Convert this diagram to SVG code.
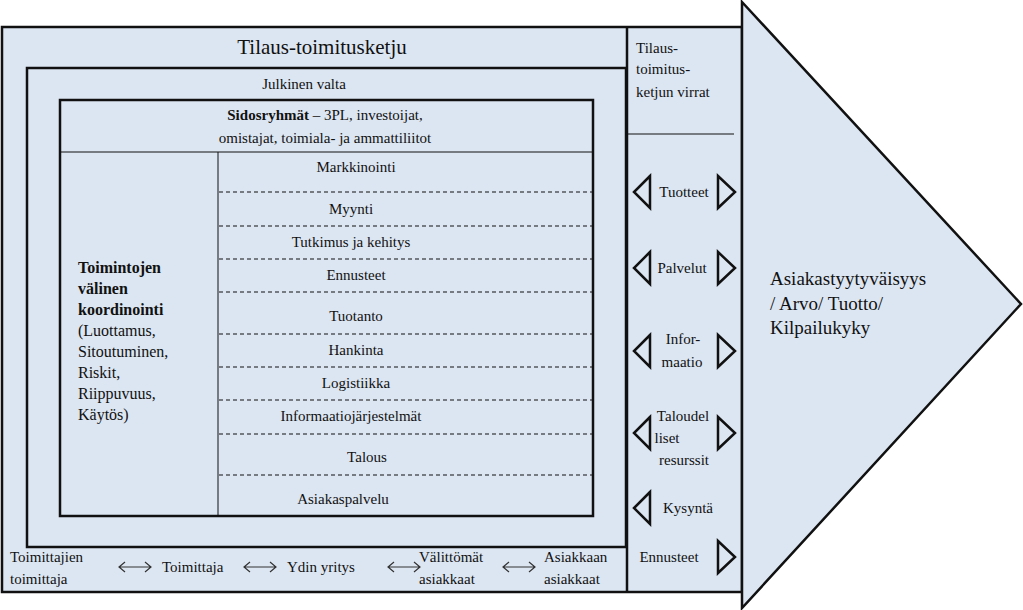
<svg xmlns="http://www.w3.org/2000/svg" width="1023" height="610" viewBox="0 0 1023 610" font-family="'Liberation Serif', 'Times New Roman', 'DejaVu Serif', serif">
<style>
text{font-family:'Liberation Serif','Times New Roman','DejaVu Serif',serif;fill:#111}
.box{fill:#dce6f2;stroke:#111;stroke-width:2.5}
.tri{fill:none;stroke:#111;stroke-width:2.5;stroke-linejoin:miter}
.dash{stroke:#111;stroke-width:1;stroke-dasharray:4,3}
.f15{font-size:15px}
.f16{font-size:16px}
.mid{text-anchor:middle}
.dbl{stroke:#333;stroke-width:1.2;fill:none}
</style>
<rect width="1023" height="610" fill="#fff"/>
<g id="outer">
<rect class="box" x="2" y="27" width="740" height="565"/>
<line x1="627" y1="27" x2="627" y2="592" stroke="#111" stroke-width="2.5"/>
<text x="322" y="54" class="mid" font-size="21">Tilaus-toimitusketju</text>
</g>
<g id="julkinen">
<rect class="box" x="27" y="68" width="599" height="479"/>
<text x="304" y="89" class="mid f15">Julkinen valta</text>
</g>
<g id="sidosryhmat">
<rect class="box" x="60" y="100" width="533" height="416"/>
<line x1="60" y1="152" x2="593" y2="152" stroke="#111" stroke-width="1"/>
<line x1="218" y1="152" x2="218" y2="516" stroke="#111" stroke-width="1"/>
<text x="325" y="120" class="mid f15"><tspan font-weight="bold">Sidosryhmät</tspan>  – 3PL, investoijat,</text>
<text x="325" y="143" class="mid f15">omistajat, toimiala- ja ammattiliitot</text>
</g>
<g id="koordinointi" class="f16">
<text x="78" y="273" font-weight="bold">Toimintojen</text>
<text x="78" y="294" font-weight="bold">välinen</text>
<text x="78" y="315" font-weight="bold">koordinointi</text>
<text x="78" y="336">(Luottamus,</text>
<text x="78" y="357">Sitoutuminen,</text>
<text x="78" y="378">Riskit,</text>
<text x="78" y="399">Riippuvuus,</text>
<text x="78" y="420">Käytös)</text>
</g>
<g id="toiminnot" class="f15">
<line class="dash" x1="219" y1="192" x2="592" y2="192"/>
<line class="dash" x1="219" y1="226" x2="592" y2="226"/>
<line class="dash" x1="219" y1="259" x2="592" y2="259"/>
<line class="dash" x1="219" y1="292" x2="592" y2="292"/>
<line class="dash" x1="219" y1="334" x2="592" y2="334"/>
<line class="dash" x1="219" y1="367" x2="592" y2="367"/>
<line class="dash" x1="219" y1="400" x2="592" y2="400"/>
<line class="dash" x1="219" y1="434" x2="592" y2="434"/>
<line class="dash" x1="219" y1="475" x2="592" y2="475"/>
<text x="356" y="172" class="mid">Markkinointi</text>
<text x="351" y="214" class="mid">Myynti</text>
<text x="351" y="247" class="mid">Tutkimus  ja kehitys</text>
<text x="356" y="280" class="mid">Ennusteet</text>
<text x="356" y="321" class="mid">Tuotanto</text>
<text x="356" y="355" class="mid">Hankinta</text>
<text x="356" y="388" class="mid">Logistiikka</text>
<text x="351" y="421" class="mid">Informaatiojärjestelmät</text>
<text x="367" y="462" class="mid">Talous</text>
<text x="343" y="504" class="mid">Asiakaspalvelu</text>
</g>
<g id="arrow">
<path d="M742,2 L1021,304 L742,608 Z" fill="#dce6f2" stroke="#111" stroke-width="2.5"/>
<text x="770" y="285" font-size="19">Asiakastyytyväisyys</text>
<text x="770" y="310" font-size="19">/ Arvo/ Tuotto/</text>
<text x="770" y="334" font-size="19">Kilpailukyky</text>
</g>
<g id="virrat" class="f15">
<text x="636" y="53">Tilaus-</text>
<text x="636" y="74">toimitus-</text>
<text x="636" y="97">ketjun  virrat</text>
<line x1="627" y1="134" x2="734" y2="134" stroke="#111" stroke-width="1"/>
<path class="tri" d="M650,176 L634,192 L650,208 Z"/><path class="tri" d="M718,176 L735,192 L718,208 Z"/>
<text x="684" y="197" class="mid">Tuotteet</text>
<path class="tri" d="M650,252 L634,268 L650,284 Z"/><path class="tri" d="M718,252 L735,268 L718,284 Z"/>
<text x="682" y="273" class="mid">Palvelut</text>
<path class="tri" d="M650,335 L634,351 L650,367 Z"/><path class="tri" d="M718,335 L735,351 L718,367 Z"/>
<text x="683" y="344" class="mid">Infor-</text>
<text x="682" y="367" class="mid">maatio</text>
<path class="tri" d="M650,417 L634,433 L650,449 Z"/><path class="tri" d="M718,417 L735,433 L718,449 Z"/>
<text x="683" y="421" class="mid">Taloudel</text>
<text x="667" y="443" class="mid">liset</text>
<text x="684" y="465" class="mid">resurssit</text>
<path class="tri" d="M650,492 L634,508 L650,524 Z"/>
<text x="688" y="513" class="mid">Kysyntä</text>
<path class="tri" d="M718,541 L735,557 L718,573 Z"/>
<text x="669" y="562" class="mid">Ennusteet</text>
</g>
<g id="ketju" class="f15">
<text x="10" y="562">Toimittajien</text>
<text x="10" y="584">toimittaja</text>
<text x="162" y="572">Toimittaja</text>
<text x="287" y="572">Ydin yritys</text>
<text x="419" y="562">Välittömät</text>
<text x="419" y="584">asiakkaat</text>
<text x="544" y="562">Asiakkaan</text>
<text x="544" y="584">asiakkaat</text>
</g>
<g id="connectors">
<path class="dbl" d="M119,567 H151 M125,562 L119,567 L125,572 M145,562 L151,567 L145,572"/>
<path class="dbl" d="M244,567 H276 M250,562 L244,567 L250,572 M270,562 L276,567 L270,572"/>
<path class="dbl" d="M388,567 H420 M394,562 L388,567 L394,572 M414,562 L420,567 L414,572"/>
<path class="dbl" d="M503,567 H535 M509,562 L503,567 L509,572 M529,562 L535,567 L529,572"/>
</g>
</svg>
